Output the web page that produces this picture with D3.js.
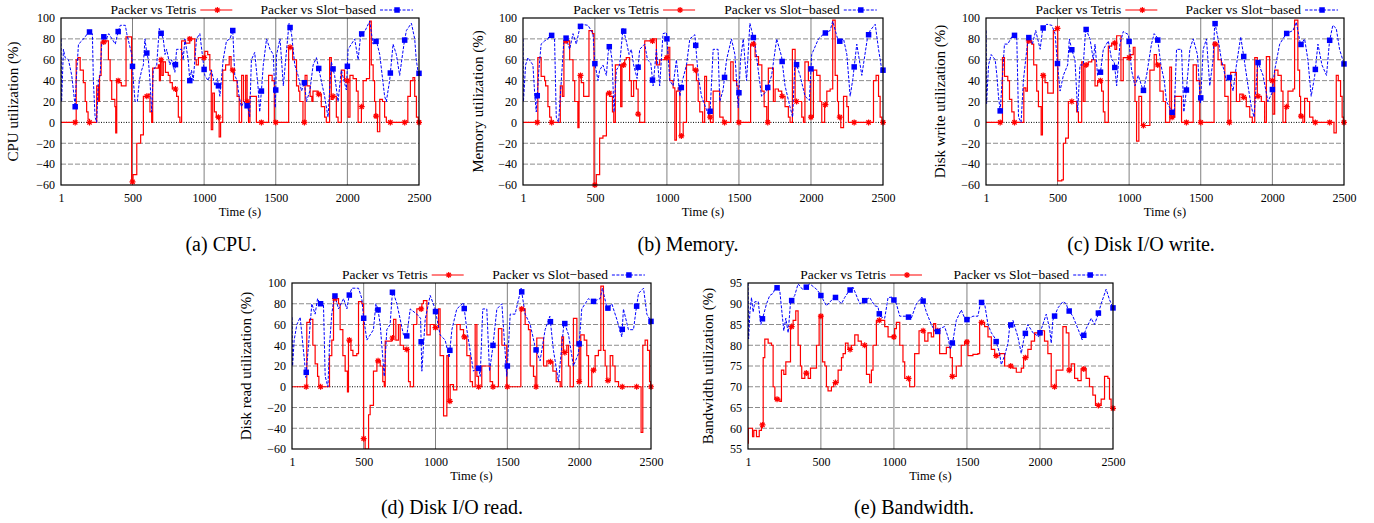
<!DOCTYPE html>
<html><head><meta charset="utf-8">
<script src="https://cdn.jsdelivr.net/npm/d3@7/dist/d3.min.js"></script>
<style>
html,body{margin:0;padding:0;background:#fff;}
text{font-family:"Liberation Serif","Times New Roman",serif;fill:#000;}
</style></head>
<body>
<svg id="chart" width="1374" height="523"></svg>
<script>
// ---------------- DATA ----------------
const xTicks = [1, 500, 1000, 1500, 2000, 2500];
const pctTicks = [-60, -40, -20, 0, 20, 40, 60, 80, 100];
const bwTicks = [55, 60, 65, 70, 75, 80, 85, 90, 95];
const legendLabels = ["Packer vs Tetris", "Packer vs Slot\u2212based"];
const yLabels = ["CPU utilization (%)", "Memory utilization (%)", "Disk write utilization (%)", "Disk read utilization (%)", "Bandwidth utilization (%)"];
const captions = ["(a)  CPU.", "(b)  Memory.", "(c)  Disk I/O write.", "(d)  Disk I/O read.", "(e)  Bandwidth."];
const markerTimes = [100,200,300,400,500,600,700,800,900,1000,1100,1200,1300,1400,1500,1600,1700,1800,1900,2000,2100,2200,2300,2400,2500];

const cpuTetris = [[1,0],[107,60],[120,62],[135,50],[157,38],[170,20],[180,10],[190,3],[200,0],[250,35],[262,20],[270,45],[281,77],[316,78],[332,60],[344,40],[355,22],[377,15],[383,-10],[390,40],[408,38],[422,35],[455,82],[487,82],[494,-57],[504,-50],[530,-20],[557,-12],[576,25],[610,27],[622,10],[634,0],[641,52],[680,55],[688,40],[695,60],[705,45],[715,58],[730,48],[750,45],[762,38],[778,32],[808,25],[820,5],[831,0],[843,78],[870,76],[900,80],[935,60],[945,55],[960,62],[990,62],[1005,68],[1025,65],[1040,50],[1050,-7],[1060,28],[1072,10],[1085,5],[1105,-14],[1115,0],[1130,50],[1150,55],[1175,63],[1188,50],[1205,40],[1230,25],[1245,0],[1262,45],[1275,20],[1290,45],[1300,20],[1310,0],[1320,25],[1355,25],[1365,0],[1415,0],[1450,45],[1475,40],[1490,0],[1585,0],[1590,72],[1618,60],[1640,60],[1645,35],[1660,30],[1668,20],[1690,0],[1705,45],[1718,35],[1740,25],[1752,20],[1760,30],[1795,27],[1818,15],[1841,5],[1853,0],[1876,62],[1888,22],[1900,25],[1923,5],[1935,0],[1958,50],[1980,40],[2005,5],[2018,45],[2040,42],[2063,30],[2075,0],[2098,15],[2110,40],[2133,42],[2155,97],[2167,55],[2180,40],[2190,20],[2198,6],[2210,-9],[2226,22],[2245,20],[2260,5],[2272,0],[2410,0],[2422,25],[2440,40],[2458,43],[2470,25],[2482,5],[2495,0],[2500,0]];
const cpuSlot = [[1,80],[5,20],[18,70],[30,62],[53,60],[76,45],[88,30],[100,15],[107,40],[123,75],[146,78],[170,82],[195,87],[220,85],[227,40],[239,5],[250,0],[262,40],[274,45],[285,75],[300,82],[318,80],[334,85],[357,80],[380,75],[400,87],[415,93],[450,93],[460,85],[495,65],[506,40],[518,20],[534,20],[548,40],[564,50],[576,55],[587,80],[599,67],[611,60],[622,40],[634,10],[645,50],[669,55],[687,90],[715,80],[727,65],[738,70],[761,55],[773,60],[796,48],[808,70],[843,70],[854,60],[866,80],[889,60],[900,40],[912,50],[924,40],[947,80],[970,85],[1005,45],[1028,40],[1051,50],[1075,35],[1093,42],[1110,25],[1133,60],[1156,78],[1180,80],[1200,88],[1214,45],[1230,40],[1244,25],[1260,15],[1277,20],[1305,15],[1318,5],[1330,60],[1353,67],[1376,35],[1388,10],[1400,30],[1413,55],[1436,80],[1460,70],[1483,65],[1497,14],[1506,65],[1530,80],[1553,35],[1576,70],[1593,95],[1610,85],[1633,55],[1656,45],[1680,30],[1700,38],[1714,20],[1738,30],[1761,55],[1784,62],[1818,40],[1841,25],[1865,5],[1888,58],[1911,45],[1935,20],[1958,50],[1993,31],[2005,70],[2028,75],[2051,80],[2075,60],[2093,84],[2121,87],[2156,97],[2179,75],[2203,78],[2226,65],[2260,25],[2272,20],[2295,40],[2319,75],[2342,65],[2365,45],[2395,75],[2412,88],[2447,95],[2470,80],[2481,60],[2495,47],[2500,47]];

const memTetris = [[1,0],[100,0],[104,62],[127,44],[151,40],[158,35],[174,15],[186,5],[197,0],[255,0],[260,35],[274,25],[285,78],[325,60],[348,40],[360,20],[382,-5],[390,45],[406,38],[422,25],[452,25],[459,88],[483,85],[494,-60],[510,-50],[533,-15],[556,-13],[580,28],[603,25],[622,10],[631,0],[642,55],[667,55],[679,15],[688,55],[707,60],[718,62],[741,40],[753,25],[769,40],[788,32],[800,8],[811,0],[846,78],[904,80],[927,55],[950,60],[985,62],[1008,72],[1020,40],[1043,33],[1055,-17],[1066,30],[1078,33],[1090,-13],[1113,0],[1136,55],[1159,55],[1182,50],[1205,40],[1217,20],[1228,10],[1248,0],[1262,44],[1275,20],[1293,5],[1302,0],[1321,30],[1355,30],[1367,5],[1390,0],[1437,0],[1443,58],[1460,40],[1484,35],[1495,0],[1572,0],[1581,75],[1612,63],[1636,55],[1659,30],[1675,15],[1693,0],[1704,52],[1728,52],[1739,20],[1751,32],[1774,30],[1797,25],[1820,15],[1843,5],[1855,0],[1871,70],[1890,20],[1913,20],[1936,5],[1948,0],[1958,58],[1982,40],[1998,5],[2017,50],[2040,45],[2063,20],[2075,0],[2095,17],[2110,30],[2133,32],[2151,98],[2168,45],[2184,20],[2191,5],[2207,-5],[2226,25],[2249,15],[2260,0],[2422,0],[2434,40],[2452,45],[2469,25],[2480,5],[2492,0],[2500,0]];
const memSlot = [[1,80],[4,20],[19,55],[35,62],[70,55],[81,30],[93,10],[111,50],[127,75],[151,78],[174,80],[190,85],[220,80],[232,5],[248,0],[267,40],[283,75],[297,82],[325,70],[348,85],[371,75],[394,90],[406,94],[452,93],[487,85],[499,57],[522,40],[533,50],[556,55],[580,45],[591,65],[603,75],[619,60],[633,10],[649,50],[672,55],[695,90],[718,78],[737,65],[753,70],[769,55],[793,42],[811,70],[846,75],[865,60],[888,57],[904,35],[927,70],[950,35],[973,85],[997,86],[1020,40],[1043,35],[1066,60],[1090,25],[1108,40],[1136,55],[1159,80],[1194,84],[1217,45],[1240,25],[1275,12],[1298,5],[1321,70],[1355,70],[1367,20],[1390,31],[1414,60],[1448,80],[1472,65],[1495,14],[1511,60],[1530,80],[1553,40],[1576,95],[1611,75],[1634,50],[1657,25],[1692,30],[1727,45],[1762,80],[1796,63],[1820,35],[1854,15],[1873,5],[1889,60],[1924,45],[1959,25],[1989,21],[2005,65],[2052,80],[2091,85],[2133,88],[2151,97],[2191,77],[2226,80],[2249,65],[2272,25],[2290,41],[2318,75],[2353,45],[2392,81],[2411,88],[2446,94],[2469,70],[2492,50],[2500,50]];

const writeTetris = [[1,0],[107,0],[116,62],[130,44],[153,40],[165,22],[181,10],[197,0],[255,0],[265,33],[279,30],[290,78],[320,75],[334,55],[355,30],[367,15],[386,-12],[395,45],[413,38],[432,28],[460,28],[471,88],[488,90],[502,-56],[530,-55],[541,-20],[557,-15],[576,20],[618,20],[634,10],[646,0],[669,58],[680,20],[692,55],[715,58],[739,60],[762,35],[780,40],[808,30],[820,10],[831,0],[855,73],[878,76],[901,70],[913,83],[936,83],[943,40],[959,62],[1006,65],[1029,72],[1041,20],[1052,-18],[1068,25],[1087,-3],[1122,-3],[1145,50],[1175,65],[1191,55],[1215,30],[1238,20],[1254,0],[1284,53],[1296,5],[1319,25],[1354,25],[1366,0],[1440,0],[1447,55],[1470,40],[1493,0],[1586,0],[1593,75],[1621,60],[1644,55],[1668,25],[1691,0],[1709,48],[1737,48],[1749,20],[1772,27],[1795,24],[1818,15],[1842,5],[1860,0],[1877,62],[1895,25],[1923,20],[1946,0],[1958,63],[1981,40],[2004,8],[2016,50],[2039,45],[2062,30],[2074,0],[2093,15],[2109,30],[2144,32],[2155,98],[2178,50],[2190,25],[2197,6],[2213,0],[2225,23],[2244,20],[2260,5],[2283,0],[2422,0],[2430,-10],[2446,45],[2460,40],[2476,25],[2487,5],[2495,0],[2500,0]];
const writeSlot = [[1,88],[5,18],[19,55],[37,65],[65,60],[77,45],[88,25],[100,11],[116,45],[130,75],[153,75],[181,82],[197,84],[216,80],[228,5],[246,0],[262,40],[286,70],[297,82],[325,75],[348,88],[379,70],[397,90],[425,94],[460,93],[483,85],[502,53],[518,30],[541,45],[571,55],[583,80],[599,70],[622,60],[641,10],[657,55],[680,55],[697,90],[727,80],[750,60],[762,75],[780,45],[799,47],[820,70],[855,78],[878,60],[896,58],[913,35],[936,75],[959,87],[996,84],[1017,50],[1041,35],[1064,45],[1099,30],[1122,45],[1156,75],[1175,85],[1198,81],[1222,55],[1245,40],[1261,20],[1296,11],[1314,5],[1331,70],[1366,70],[1382,10],[1400,31],[1424,70],[1447,80],[1477,65],[1498,18],[1517,70],[1540,80],[1563,35],[1586,60],[1598,96],[1621,80],[1644,60],[1679,40],[1698,44],[1726,30],[1749,55],[1779,82],[1798,65],[1830,35],[1853,15],[1872,5],[1898,58],[1935,45],[1969,20],[1997,28],[2016,50],[2051,75],[2097,85],[2144,88],[2167,96],[2197,74],[2225,80],[2248,60],[2271,25],[2295,44],[2318,75],[2346,55],[2378,45],[2399,78],[2422,93],[2446,90],[2469,70],[2500,56]];

const readTetris = [[1,0],[100,0],[104,62],[123,65],[146,40],[162,22],[179,10],[188,0],[255,0],[262,30],[278,45],[290,85],[325,80],[336,55],[355,30],[371,15],[387,-5],[394,45],[411,35],[425,30],[452,32],[464,82],[487,80],[499,-50],[510,-60],[534,-27],[545,-18],[568,15],[592,25],[615,20],[633,5],[643,0],[650,44],[684,44],[696,47],[708,65],[724,45],[742,60],[754,40],[777,36],[812,5],[824,0],[847,60],[870,75],[905,80],[916,83],[940,50],[963,60],[991,57],[1021,75],[1032,30],[1056,-28],[1079,30],[1090,-14],[1102,2],[1125,-3],[1148,60],[1172,55],[1195,48],[1218,30],[1241,5],[1257,0],[1276,60],[1288,10],[1299,0],[1322,20],[1357,20],[1380,5],[1397,0],[1430,0],[1438,56],[1462,40],[1485,40],[1496,0],[1585,0],[1594,75],[1624,60],[1647,55],[1659,20],[1682,10],[1694,0],[1705,47],[1740,47],[1752,20],[1775,25],[1793,24],[1817,15],[1840,5],[1868,0],[1879,48],[1891,33],[1914,40],[1926,20],[1937,0],[1960,66],[1984,40],[2000,5],[2011,50],[2035,45],[2053,30],[2065,0],[2088,16],[2111,30],[2134,35],[2151,97],[2169,35],[2181,20],[2192,6],[2216,30],[2234,20],[2250,5],[2274,0],[2424,0],[2431,-44],[2443,40],[2459,45],[2476,35],[2490,5],[2497,0],[2500,0]];
const readSlot = [[1,67],[5,20],[16,45],[35,60],[58,67],[77,40],[88,25],[97,9],[116,40],[139,80],[162,70],[179,85],[197,80],[220,80],[232,10],[251,0],[262,40],[278,70],[297,89],[325,75],[360,85],[383,75],[399,88],[418,95],[464,95],[487,85],[499,67],[522,45],[545,50],[568,55],[585,80],[599,75],[615,60],[643,10],[661,55],[684,60],[701,93],[731,80],[754,65],[777,50],[800,49],[824,75],[870,70],[896,66],[905,15],[928,65],[963,88],[995,76],[1032,50],[1067,45],[1095,28],[1114,55],[1148,75],[1195,81],[1218,55],[1241,35],[1264,15],[1297,20],[1311,10],[1329,75],[1357,75],[1376,15],[1397,36],[1427,75],[1462,80],[1496,10],[1520,70],[1554,70],[1596,95],[1624,70],[1659,60],[1696,37],[1728,25],[1763,55],[1796,68],[1821,35],[1856,5],[1895,63],[1926,50],[1960,20],[1995,32],[2018,75],[2065,85],[2095,82],[2146,85],[2162,95],[2195,75],[2227,80],[2262,65],[2297,48],[2308,75],[2343,55],[2378,55],[2394,72],[2413,90],[2448,95],[2471,70],[2500,63]];

const bwTetris = [[1,56.4],[3,60],[25,60],[32,58],[41,59.5],[59,58],[78,59.5],[93,60.8],[105,77],[116,81.5],[139,80.5],[162,80],[173,70],[185,67],[219,66.5],[230,74],[246,73],[260,76],[276,76],[292,84.5],[310,86],[328,88.3],[344,80],[360,75],[369,72],[390,73.3],[413,72],[429,74.5],[458,74.5],[470,80],[488,87],[511,76],[527,75],[538,70],[549,69],[572,70],[588,71],[618,74],[641,77],[652,78],[668,80.5],[686,79],[709,80],[732,82.5],[755,81],[777,80],[812,73],[834,71],[846,74],[857,80],[880,86],[914,86],[937,84.5],[960,82],[1005,84],[1017,85.5],[1040,80],[1062,76],[1074,72],[1108,70],[1131,70],[1142,78],[1172,83.5],[1211,81],[1233,83],[1256,82],[1272,85.2],[1286,83.5],[1313,78],[1359,79.5],[1386,77],[1400,72.5],[1427,75],[1461,80],[1484,80.8],[1507,77.5],[1541,77.8],[1575,78],[1587,85.5],[1621,84.5],[1644,82],[1667,79],[1690,77.5],[1724,78],[1758,75],[1815,74.5],[1838,73.5],[1872,74.5],[1888,77],[1917,79],[1940,81],[1963,83],[2009,83.5],[2031,81],[2054,78],[2077,70],[2111,74],[2145,74],[2157,84.5],[2180,83],[2198,74],[2214,75.5],[2237,72],[2259,71.5],[2282,74.3],[2316,72],[2339,70],[2362,68],[2380,65.5],[2419,67],[2442,72.5],[2465,72],[2476,67],[2487,64.8],[2500,64.8]];
const bwSlot = [[1,95],[5,81.5],[14,88],[25,91.5],[36,88],[48,90.5],[71,90.5],[89,85],[105,87],[128,90],[150,92],[173,92.5],[192,94.2],[219,93],[246,83.5],[260,86.5],[276,83],[292,90.3],[321,92],[344,94.8],[374,93.5],[394,93.8],[424,94.8],[470,93.5],[492,92.5],[538,89.5],[595,91.7],[641,90],[663,91.5],[691,93],[720,94],[766,90],[834,91.5],[869,89.5],[891,89.3],[903,87],[937,86.5],[960,91.5],[987,91.6],[1017,90],[1040,87],[1085,87],[1119,86.5],[1154,90],[1192,91.6],[1222,88],[1256,85],[1290,82.8],[1313,84],[1347,84.5],[1370,82],[1386,79],[1404,81],[1427,86],[1461,88.5],[1491,86],[1541,87],[1575,87],[1594,90.4],[1621,90],[1644,85],[1667,83],[1694,81.6],[1724,78],[1735,75.3],[1758,77.5],[1781,80.5],[1792,84.3],[1815,86],[1849,82],[1872,78],[1890,81.6],[1917,85],[1952,83],[1974,82.5],[1990,82],[2020,85],[2043,87.5],[2066,84],[2077,80.5],[2088,86],[2123,89],[2157,90.5],[2180,90],[2191,88.7],[2225,87],[2271,83],[2289,81.3],[2316,84],[2351,86.5],[2373,85],[2392,86.8],[2419,90],[2453,93.5],[2476,91],[2500,89]];

// ---------------- LAYOUT ----------------
const panels = [
  {left:61,  top:18,  w:358, h:167, ticks:pctTicks, dom:[-60,100], red:cpuTetris,   blue:cpuSlot,   yl:0, ylx:13,  cap:[221,251], zero:true},
  {left:523, top:18,  w:360, h:167, ticks:pctTicks, dom:[-60,100], red:memTetris,   blue:memSlot,   yl:1, ylx:478, cap:[688,251], zero:true},
  {left:986, top:18,  w:358, h:167, ticks:pctTicks, dom:[-60,100], red:writeTetris, blue:writeSlot, yl:2, ylx:940, cap:[1141,251], zero:true},
  {left:292, top:283, w:359, h:166, ticks:pctTicks, dom:[-60,100], red:readTetris,  blue:readSlot,  yl:3, ylx:246, cap:[452,514], zero:true},
  {left:748, top:283, w:365, h:166, ticks:bwTicks,  dom:[55,95],   red:bwTetris,    blue:bwSlot,    yl:4, ylx:708, cap:[914,514], zero:false}
];

const RED = "#ff0000", BLUE = "#0000ff";
const svg = d3.select("#chart");

function stepVal(arr, t){ let v = arr[0][1]; for (const p of arr){ if (p[0] <= t) v = p[1]; else break; } return v; }
function linVal(arr, t){
  for (let i=1;i<arr.length;i++){ if (arr[i][0] >= t){ const a=arr[i-1], b=arr[i]; const f=(t-a[0])/((b[0]-a[0])||1); return a[1]+f*(b[1]-a[1]); } }
  return arr[arr.length-1][1];
}
function asterisk(g, cx, cy, r){
  const d = `M${cx-r},${cy}L${cx+r},${cy}M${cx},${cy-r}L${cx},${cy+r}M${cx-r*0.72},${cy-r*0.72}L${cx+r*0.72},${cy+r*0.72}M${cx-r*0.72},${cy+r*0.72}L${cx+r*0.72},${cy-r*0.72}`;
  g.append("path").attr("d", d).attr("stroke", RED).attr("stroke-width", 1.2).attr("fill","none");
}
function square(g, cx, cy, s){
  g.append("rect").attr("x", cx-s/2).attr("y", cy-s/2).attr("width", s).attr("height", s).attr("fill", BLUE);
}

panels.forEach((p, i) => {
  const g = svg.append("g").attr("transform", `translate(${p.left},${p.top})`);
  const x = d3.scaleLinear().domain([1, 2500]).range([0, p.w]);
  const y = d3.scaleLinear().domain(p.dom).range([p.h, 0]);

  const clipId = "clip" + i;
  g.append("clipPath").attr("id", clipId).append("rect").attr("x",0).attr("y",0).attr("width",p.w).attr("height",p.h);

  // grid
  g.append("g").selectAll("line").data(p.ticks.filter(t => t !== p.dom[0] && t !== p.dom[1] && !(p.zero && t === 0)))
    .join("line").attr("x1",0).attr("x2",p.w).attr("y1",d=>y(d)).attr("y2",d=>y(d))
    .attr("stroke","#8c8c8c").attr("stroke-width",1).attr("stroke-dasharray","5,2");
  g.append("g").selectAll("line").data(xTicks.filter(t => t !== 1 && t !== 2500))
    .join("line").attr("x1",d=>x(d)).attr("x2",d=>x(d)).attr("y1",0).attr("y2",p.h)
    .attr("stroke","#808080").attr("stroke-width",1);
  if (p.zero){
    g.append("line").attr("x1",0).attr("x2",p.w).attr("y1",y(0)).attr("y2",y(0))
      .attr("stroke","#000").attr("stroke-width",1).attr("stroke-dasharray","1,1.5");
  }

  // axes (labels)
  const yAxis = d3.axisLeft(y).tickValues(p.ticks).tickSize(0).tickPadding(6).tickFormat(d => d < 0 ? "\u2212" + Math.abs(d) : String(d));
  const ya = g.append("g").call(yAxis);
  ya.select(".domain").remove();
  ya.selectAll("text").attr("font-size", 12).attr("font-family", "Liberation Serif");
  const xAxis = d3.axisBottom(x).tickValues(xTicks).tickSize(0).tickPadding(8).tickFormat(d3.format("d"));
  const xa = g.append("g").attr("transform", `translate(0,${p.h})`).call(xAxis);
  xa.select(".domain").remove();
  xa.selectAll("text").attr("font-size", 12).attr("font-family", "Liberation Serif");

  // data lines
  const data = g.append("g").attr("clip-path", `url(#${clipId})`);
  const redLine = d3.line().x(d=>x(d[0])).y(d=>y(d[1])).curve(d3.curveStepAfter);
  const blueLine = d3.line().x(d=>x(d[0])).y(d=>y(d[1])).curve(d3.curveLinear);
  data.append("path").datum(p.red).attr("d", redLine).attr("fill","none").attr("stroke",RED).attr("stroke-width",1.2);
  data.append("path").datum(p.blue).attr("d", blueLine).attr("fill","none").attr("stroke",BLUE).attr("stroke-width",1).attr("stroke-dasharray","3,1.5");

  const mk = g.append("g");
  markerTimes.forEach(t => asterisk(mk, x(t), y(stepVal(p.red, t)), 3));
  markerTimes.forEach(t => square(mk, x(t), y(linVal(p.blue, t)), 5.5));

  // frame
  g.append("rect").attr("x",0).attr("y",0).attr("width",p.w).attr("height",p.h).attr("fill","none").attr("stroke","#000").attr("stroke-width",1.2);

  // labels
  svg.append("text").attr("transform", `translate(${p.ylx},${p.top + p.h/2}) rotate(-90)`)
    .attr("text-anchor","middle").attr("dominant-baseline","central").attr("font-size", 15).text(yLabels[p.yl]);
  svg.append("text").attr("x", p.left + p.w/2).attr("y", p.top + p.h + 31).attr("text-anchor","middle").attr("font-size", 12.5).text("Time (s)");
  svg.append("text").attr("x", p.cap[0]).attr("y", p.cap[1]).attr("text-anchor","middle").attr("font-size", 20).text(captions[i]);

  // legend
  const ly = p.top - 8;
  const e1 = p.left + p.w * 0.378, e2 = p.left + p.w * 0.88;
  svg.append("text").attr("x", e1).attr("y", p.top - 4).attr("text-anchor","end").attr("font-size", 13.5).text(legendLabels[0]);
  svg.append("line").attr("x1", e1+4).attr("x2", e1+36).attr("y1", ly).attr("y2", ly).attr("stroke", RED).attr("stroke-width", 1.2);
  asterisk(svg, e1+21, ly, 3);
  svg.append("text").attr("x", e2).attr("y", p.top - 4).attr("text-anchor","end").attr("font-size", 13.5).text(legendLabels[1]);
  svg.append("line").attr("x1", e2+4).attr("x2", e2+37).attr("y1", ly).attr("y2", ly).attr("stroke", BLUE).attr("stroke-width", 1).attr("stroke-dasharray","3,1.5");
  square(svg, e2+21, ly, 5.5);
});
</script>
</body></html>
